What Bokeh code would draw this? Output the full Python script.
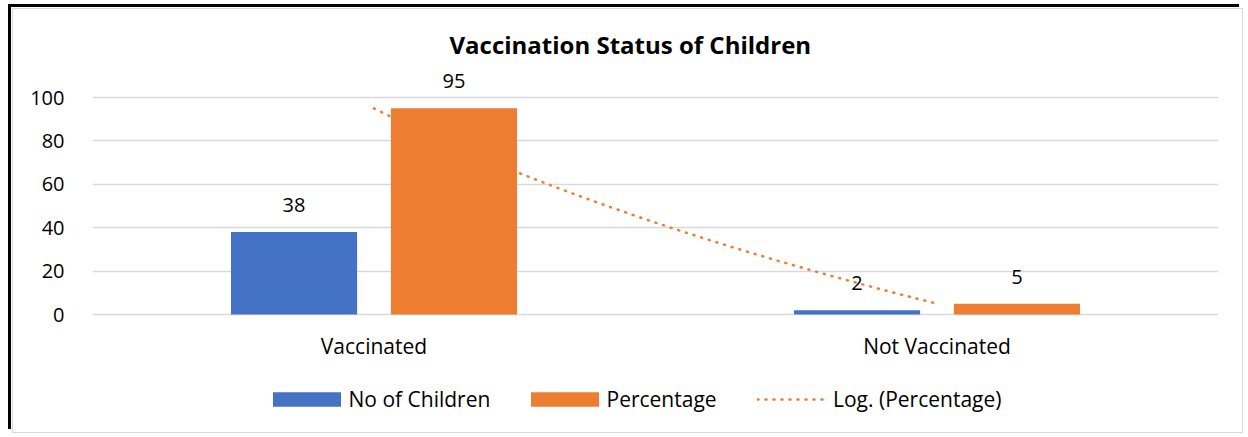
import numpy as np
from bokeh.plotting import figure
from bokeh.models import Range1d, FixedTicker, Legend, LegendItem
from bokeh.embed import file_html
from bokeh.resources import INLINE

# ---- data ----
categories = ["Vaccinated", "Not Vaccinated"]
no_of_children = [38, 2]
percentage = [95, 5]
y_ticks = [0, 20, 40, 60, 80, 100]
series_names = ["No of Children", "Percentage", "Log. (Percentage)"]

BLUE = "#4472C4"
ORANGE = "#ED7D31"
GRID = "#d9d9d9"
FONT = "Open Sans"
FS_NUM = "20px"
FS_TXT = "21px"

cat_x = np.arange(1, len(categories) + 1, dtype=float)
OFF = 0.142
BW = 0.224

p = figure(width=1231, height=425, output_backend="svg", toolbar_location=None,
           x_range=Range1d(0.5, 2.5), y_range=Range1d(-55.30, 116.13),
           min_border_left=79, min_border_right=26, min_border_top=53, min_border_bottom=0,
           styles={"margin-top": "8px", "margin-left": "12px",
                   "border": "1px solid #d9d9d9",
                   "box-shadow": "-1px -1px 0 0 white, -4px -4px 0 0 black"})
p.outline_line_color = None
p.background_fill_color = "white"
p.border_fill_color = "white"

# title
p.title.text = "Vaccination Status of Children"
p.title.text_font = FONT
p.title.text_font_size = "24px"
p.title.text_font_style = "bold"
p.title.text_color = "#000000"
p.title.align = "left"
p.title.offset = 357
p.title.standoff = 4

# bars
p.vbar(x=cat_x - OFF, top=no_of_children, width=BW, color=BLUE, line_color=None)
p.vbar(x=cat_x + OFF, top=percentage, width=BW, color=ORANGE, line_color=None)

# logarithmic trendline of percentage
a, b = np.polyfit(np.log(cat_x), np.array(percentage, dtype=float), 1)
tx = np.linspace(cat_x[0], cat_x[-1], 80)
ty = a * np.log(tx) + b
trend = p.line(tx, ty, line_color=ORANGE, line_width=2.5, line_dash="1 7", line_cap="round")

# data labels
for xs, vals in ((cat_x - OFF, no_of_children), (cat_x + OFF, percentage)):
    p.text(x=xs, y=vals, text=[str(v) for v in vals],
           text_align="center", text_baseline="alphabetic", y_offset=-27,
           text_font_size=FS_NUM, text_font={"value": FONT}, text_color="#000000")

# axes
p.yaxis.ticker = FixedTicker(ticks=y_ticks)
p.yaxis.axis_line_color = None
p.yaxis.major_tick_line_color = None
p.yaxis.minor_tick_line_color = None
p.yaxis.major_label_standoff = 22
p.yaxis.major_label_text_font = FONT
p.yaxis.major_label_text_font_size = FS_NUM
p.yaxis.major_label_text_color = "#000000"

p.xaxis.fixed_location = 0
p.xaxis.ticker = FixedTicker(ticks=list(cat_x))
p.xaxis.major_label_overrides = {float(x): c for x, c in zip(cat_x, categories)} | {int(x): c for x, c in zip(cat_x, categories)}
p.xaxis.axis_line_color = None
p.xaxis.major_tick_line_color = None
p.xaxis.minor_tick_line_color = None
p.xaxis.major_label_standoff = 11
p.xaxis.major_label_text_font = FONT
p.xaxis.major_label_text_font_size = FS_TXT
p.xaxis.major_label_text_color = "#000000"

p.xgrid.grid_line_color = None
p.ygrid.ticker = FixedTicker(ticks=y_ticks)
p.ygrid.grid_line_color = GRID
p.ygrid.grid_line_width = 1.5

# legend-only renderers for the bar series
r_blue = p.vbar(x=[0], top=[0], width=0, color=BLUE, line_color=None)
r_orange = p.vbar(x=[0], top=[0], width=0, color=ORANGE, line_color=None)

legend_specs = [
    (series_names[0], r_blue, 171.5, 85, 18, 0),
    (series_names[1], r_orange, 429.5, 85, 18, 0),
    (series_names[2], trend, 665, 68, 14, 8),
]
for name, rend, lx, gw, gh, stand in legend_specs:
    lg = Legend(items=[LegendItem(label=name, renderers=[rend])],
                location=(lx, 21), orientation="horizontal",
                glyph_width=gw, glyph_height=gh, label_standoff=stand,
                padding=0, margin=0, border_line_color=None, background_fill_alpha=0,
                label_text_font=FONT, label_text_font_size=FS_TXT, label_text_color="#000000",
                click_policy="none")
    p.add_layout(lg, "center")

open("out.html", "w").write(file_html(p, INLINE))
